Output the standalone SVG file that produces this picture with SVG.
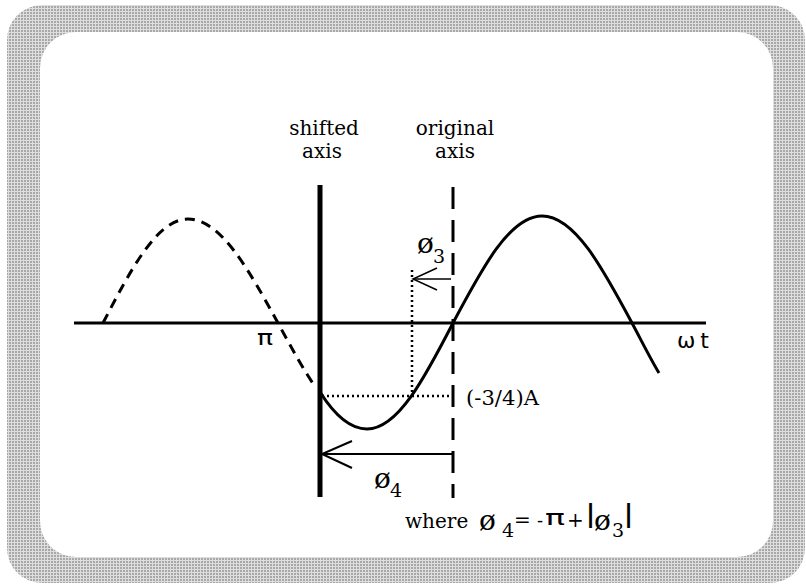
<svg xmlns="http://www.w3.org/2000/svg" width="806" height="585" viewBox="0 0 806 585">
<defs>
<pattern id="dots" x="0" y="0" width="3" height="3" patternUnits="userSpaceOnUse">
<rect width="3" height="3" fill="#dedede"/>
<rect width="2" height="2" fill="#a8a8a8"/>
</pattern>
<style>
.serif{font-family:"DejaVu Serif","Liberation Serif",serif;fill:#000}
.sans{font-family:"DejaVu Sans","Liberation Sans",sans-serif;fill:#000}
.ln{stroke:#000;fill:none}
.dot{stroke:#000;stroke-width:2.5;stroke-dasharray:2 3;fill:none}
</style>
</defs>
<rect width="806" height="585" fill="#fff"/>
<g id="frame">
<rect x="7" y="5" width="798" height="578" rx="35" ry="35" fill="url(#dots)"/>
<rect x="40" y="32" width="733" height="525" rx="36" ry="36" fill="#fff"/>
</g>
<g id="connectors">
<line class="ln" x1="74" y1="323" x2="706" y2="323" stroke-width="3"/>
<line id="shifted-axis" class="ln" x1="320" y1="185" x2="320" y2="497" stroke-width="5"/>
<line id="original-axis" class="ln" x1="453" y1="187" x2="453" y2="498" stroke-width="3" stroke-dasharray="22 11"/>
<path id="dashed-wave" class="ln" stroke-width="3" stroke-dasharray="10 7" d="M103,323 C130.7,269.7 157.2,219 188,219 C220.6,219 248.7,269.7 278,323 C290.7,346.4 303.3,369.6 316,388"/>
<path id="solid-wave" class="ln" stroke-width="3" d="M320,392 C335,415.8 351,429 367,429 C398,429 425,377.3 453,323 C482,268.2 509.8,216 542,216 C574.6,216 602.7,268.2 632,323 C641,339.8 650,358 659,373"/>
<line class="dot" x1="322" y1="396" x2="450" y2="396"/>
<line class="dot" x1="412" y1="270" x2="412" y2="396"/>
<g id="arrow-phi3" class="ln" stroke-width="1.5">
<line x1="413" y1="279" x2="451" y2="279"/>
<polyline points="437,268 413,279 437,290"/>
</g>
<g id="arrow-phi4" class="ln" stroke-width="2">
<line x1="322" y1="454" x2="452" y2="454"/>
<polyline points="352,441 322,454 352,468"/>
</g>
</g>
<g id="labels">
<text class="serif" x="324" y="135" font-size="20" text-anchor="middle">shifted</text>
<text class="serif" x="322" y="158" font-size="20" text-anchor="middle">axis</text>
<text class="serif" x="455" y="135" font-size="20" text-anchor="middle">original</text>
<text class="serif" x="455" y="158" font-size="20" text-anchor="middle">axis</text>
<text class="sans" x="257" y="345" font-size="22" textLength="16" lengthAdjust="spacingAndGlyphs">π</text>
<text class="sans" x="677" y="348" font-size="22" textLength="32" lengthAdjust="spacing">ωt</text>
<text class="serif" x="466" y="405" font-size="20" textLength="73" lengthAdjust="spacingAndGlyphs">(-3/4)A</text>
<text class="serif" x="417" y="253" font-size="28">ø</text>
<text class="serif" x="433" y="263" font-size="19">3</text>
<text class="serif" x="374" y="488" font-size="28">ø</text>
<text class="serif" x="390" y="497" font-size="19">4</text>
<text class="serif" x="405" y="528" font-size="20">where</text>
<text class="serif" x="479" y="530" font-size="28">ø</text>
<text class="serif" x="502" y="537" font-size="19">4</text>
<text class="serif" x="514" y="527" font-size="20">=</text>
<text class="serif" x="537" y="527" font-size="18">-</text>
<text class="sans" x="545" y="525" font-size="21" textLength="20" lengthAdjust="spacingAndGlyphs">π</text>
<text class="serif" x="567" y="527" font-size="20">+</text>
<text class="sans" x="586" y="522" font-size="25" font-weight="bold">|</text>
<text class="serif" x="594" y="530" font-size="28">ø</text>
<text class="serif" x="612" y="537" font-size="19">3</text>
<text class="sans" x="624" y="522" font-size="25" font-weight="bold">|</text>
</g>
</svg>
